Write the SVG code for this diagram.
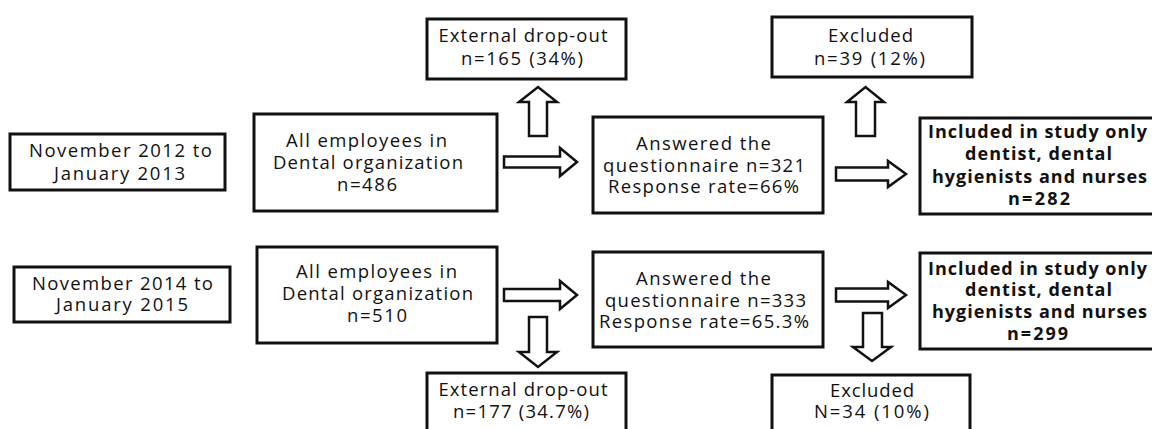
<svg xmlns="http://www.w3.org/2000/svg" width="1152" height="429" viewBox="0 0 1152 429">
<style>
  .box { fill: #ffffff; stroke: #111111; stroke-width: 3; }
  .arrow { fill: #ffffff; stroke: #111111; stroke-width: 2.5; stroke-linejoin: miter; }
  text { font-family: "Open Sans", Lato, "Liberation Sans", sans-serif; font-size: 18.5px; fill: #111111; text-anchor: middle; font-variant-ligatures: none; }
  .b { font-weight: bold; font-size: 18px; }
</style>
<rect x="0" y="0" width="1152" height="429" fill="#ffffff"/>

<g id="period-2012">
  <rect class="box" x="10" y="134" width="215" height="56"/>
  <text x="120.5" y="157" textLength="183" lengthAdjust="spacing">November 2012 to</text>
  <text x="119.5" y="180" textLength="131" lengthAdjust="spacing">January 2013</text>
</g>
<g id="period-2014">
  <rect class="box" x="14" y="267" width="216" height="55"/>
  <text x="122.5" y="290" textLength="181" lengthAdjust="spacing">November 2014 to</text>
  <text x="122" y="311" textLength="132" lengthAdjust="spacing">January 2015</text>
</g>

<g id="all-2012">
  <rect class="box" x="254" y="114" width="243" height="97"/>
  <text x="366.5" y="147" textLength="161" lengthAdjust="spacing">All employees in</text>
  <text x="368" y="169" textLength="190" lengthAdjust="spacing">Dental organization</text>
  <text x="367" y="191" textLength="60" lengthAdjust="spacing">n=486</text>
</g>
<g id="all-2014">
  <rect class="box" x="257" y="247" width="240" height="96"/>
  <text x="376.5" y="278" textLength="161" lengthAdjust="spacing">All employees in</text>
  <text x="377.5" y="300" textLength="191" lengthAdjust="spacing">Dental organization</text>
  <text x="377" y="322" textLength="60" lengthAdjust="spacing">n=510</text>
</g>

<g id="dropout-2012">
  <rect class="box" x="427" y="19" width="199" height="60"/>
  <text x="523" y="42" textLength="169" lengthAdjust="spacing">External drop-out</text>
  <text x="522" y="65" textLength="122" lengthAdjust="spacing">n=165 (34%)</text>
</g>
<g id="dropout-2014">
  <rect class="box" x="427" y="373" width="199" height="70"/>
  <text x="523" y="396" textLength="169" lengthAdjust="spacing">External drop-out</text>
  <text x="521" y="418" textLength="136" lengthAdjust="spacing">n=177 (34.7%)</text>
</g>

<g id="answered-2012">
  <rect class="box" x="593" y="117" width="230" height="96"/>
  <text x="703.5" y="150" textLength="135" lengthAdjust="spacing">Answered the</text>
  <text x="704" y="172" textLength="202" lengthAdjust="spacing">questionnaire n=321</text>
  <text x="703.5" y="193" textLength="191" lengthAdjust="spacing">Response rate=66%</text>
</g>
<g id="answered-2014">
  <rect class="box" x="593" y="252" width="230" height="95"/>
  <text x="703.5" y="285" textLength="135" lengthAdjust="spacing">Answered the</text>
  <text x="705.5" y="307" textLength="201" lengthAdjust="spacing">questionnaire n=333</text>
  <text x="704" y="328" textLength="210" lengthAdjust="spacing">Response rate=65.3%</text>
</g>

<g id="excluded-2012">
  <rect class="box" x="772" y="17" width="200" height="60"/>
  <text x="870.5" y="42" textLength="85" lengthAdjust="spacing">Excluded</text>
  <text x="869.5" y="65" textLength="111" lengthAdjust="spacing">n=39 (12%)</text>
</g>
<g id="excluded-2014">
  <rect class="box" x="772" y="375" width="198" height="70"/>
  <text x="872" y="397" textLength="84" lengthAdjust="spacing">Excluded</text>
  <text x="871.5" y="418" textLength="115" lengthAdjust="spacing">N=34 (10%)</text>
</g>

<g id="included-2012">
  <rect class="box" x="920" y="118" width="240" height="96"/>
  <text class="b" x="1037.5" y="138" textLength="219" lengthAdjust="spacing">Included in study only</text>
  <text class="b" x="1038.5" y="160" textLength="147" lengthAdjust="spacing">dentist, dental</text>
  <text class="b" x="1039.5" y="183" textLength="215" lengthAdjust="spacing">hygienists and nurses</text>
  <text class="b" x="1039" y="205" textLength="62" lengthAdjust="spacing">n=282</text>
</g>
<g id="included-2014">
  <rect class="box" x="920" y="253" width="240" height="96"/>
  <text class="b" x="1037.5" y="275" textLength="219" lengthAdjust="spacing">Included in study only</text>
  <text class="b" x="1038.5" y="296" textLength="147" lengthAdjust="spacing">dentist, dental</text>
  <text class="b" x="1039.5" y="318" textLength="215" lengthAdjust="spacing">hygienists and nurses</text>
  <text class="b" x="1037.5" y="340" textLength="61" lengthAdjust="spacing">n=299</text>
</g>

<g id="connectors">
  <!-- row 2012 -->
  <polygon class="arrow" points="529,136 529,102 519,102 538,87 557,102 547,102 547,136"/>
  <polygon class="arrow" points="504,156.5 560,156.5 560,148 577,162 560,176 560,167.5 504,167.5"/>
  <polygon class="arrow" points="856,136 856,102 847,102 865.5,87 884,102 875,102 875,136"/>
  <polygon class="arrow" points="836,167.5 888,167.5 888,161 906,174 888,187 888,180.5 836,180.5"/>
  <!-- row 2014 -->
  <polygon class="arrow" points="504,289 560,289 560,281 577,295 560,309 560,301 504,301"/>
  <polygon class="arrow" points="529,317 547,317 547,352 557,352 538,367 519,352 529,352"/>
  <polygon class="arrow" points="836,288.5 888,288.5 888,282 906,295 888,308 888,301.5 836,301.5"/>
  <polygon class="arrow" points="863,313 882,313 882,347 891,347 872,361 853,347 863,347"/>
</g>
</svg>
